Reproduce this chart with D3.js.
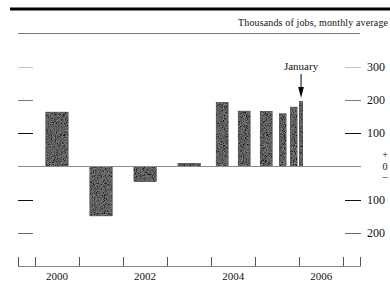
<!DOCTYPE html>
<html>
<head>
    <meta charset="utf-8">
    <title>Payroll jobs</title>
    <script src="https://d3js.org/d3.v7.min.js"></script>
    <style>
        body { margin: 0; background: #fff; }
        text { font-family: "Liberation Serif", "DejaVu Serif", serif; fill: #111; }
    </style>
</head>
<body>
    <script>
        // Periods as decimal years (start, end) and average monthly change
        const periodStart = [2000, 2001, 2002, 2003, 2004, 2004.5, 2005, 2005.5, 2005.75, 2006];
        const periodEnd = [2001, 2002, 2003, 2004, 2004.5, 2005, 2005.5, 2005.75, 2006, 2006 + 1 / 12];
        const jobValues = [163, -148, -45, 9, 192, 166, 165, 158, 178, 195];
        const yearLabels = [2000, 2002, 2004, 2006];
        const yearTicks = [2000, 2001, 2002, 2003, 2004, 2005, 2006, 2007];
        const yTicks = [300, 200, 100, -100, -200];
        const tickGray = ["#c4c4c4", "#7a7a7a", "#111", "#111", "#666"];

        const width = 390, height = 282;

        const svg = d3.select("body")
            .append("svg")
            .attr("width", width)
            .attr("height", height);

        // Noise texture for the bars
        const defs = svg.append("defs");
        const f = defs.append("filter").attr("id", "grain")
            .attr("filterUnits", "userSpaceOnUse")
            .attr("x", 0).attr("y", 0).attr("width", width).attr("height", height);
        f.append("feTurbulence")
            .attr("type", "fractalNoise")
            .attr("baseFrequency", 1.1)
            .attr("numOctaves", 2)
            .attr("seed", 3)
            .attr("result", "noise");
        f.append("feColorMatrix")
            .attr("in", "noise")
            .attr("type", "matrix")
            .attr("values", "1.3 0 0 0 -0.4  1.3 0 0 0 -0.4  1.3 0 0 0 -0.4  0 0 0 0 1")
            .attr("result", "gray");
        f.append("feComposite")
            .attr("in", "gray")
            .attr("in2", "SourceGraphic")
            .attr("operator", "in");

        const x = d3.scaleLinear().domain([1999.615, 2007.38]).range([18, 360]);
        const y = d3.scaleLinear().domain([0, 300]).range([166.5, 66.5]);

        // Top rules and unit note
        svg.append("rect")
            .attr("x", 10).attr("y", 7.5).attr("width", 380).attr("height", 3)
            .attr("fill", "#000");
        svg.append("line")
            .attr("x1", 18).attr("x2", 360).attr("y1", 33.5).attr("y2", 33.5)
            .attr("stroke", "#777").attr("stroke-width", 1);
        svg.append("text")
            .attr("x", 238).attr("y", 26)
            .attr("font-size", "10px")
            .attr("textLength", 150)
            .text("Thousands of jobs, monthly average");

        // Left and right value ticks
        svg.selectAll(".ltick")
            .data(yTicks)
            .enter()
            .append("line")
            .attr("x1", 18).attr("x2", 33)
            .attr("y1", d => Math.round(y(d)) + 0.5)
            .attr("y2", d => Math.round(y(d)) + 0.5)
            .attr("stroke", (d, i) => tickGray[i]);

        svg.selectAll(".rtick")
            .data(yTicks)
            .enter()
            .append("line")
            .attr("x1", 345).attr("x2", 361)
            .attr("y1", d => Math.round(y(d)) + 0.5)
            .attr("y2", d => Math.round(y(d)) + 0.5)
            .attr("stroke", (d, i) => tickGray[i]);

        svg.selectAll(".rlabel")
            .data(yTicks)
            .enter()
            .append("text")
            .attr("x", 367)
            .attr("y", d => y(d) + 4)
            .attr("font-size", "12px")
            .text(d => Math.abs(d));

        svg.append("text").attr("x", 385).attr("y", y(0) - 9)
            .attr("font-size", "10px").attr("text-anchor", "middle").attr("fill", "#777").text("+");
        svg.append("text").attr("x", 385).attr("y", y(0) + 3)
            .attr("font-size", "10px").attr("text-anchor", "middle").text("0");
        svg.append("text").attr("x", 385).attr("y", y(0) + 13)
            .attr("font-size", "10px").attr("text-anchor", "middle").text("\u2013");

        // Bars
        const bars = svg.selectAll(".bar")
            .data(jobValues)
            .enter()
            .append("g")
            .attr("class", "bar");

        const barW = (d, i) => 0.47 * (x(periodEnd[i]) - x(periodStart[i])) + 1.5;
        const barX = (d, i) => (x(periodStart[i]) + x(periodEnd[i])) / 2 - barW(d, i) / 2;

        bars.append("rect")
            .attr("x", barX)
            .attr("width", barW)
            .attr("y", d => y(Math.max(0, d)))
            .attr("height", d => Math.abs(y(d) - y(0)))
            .attr("fill", "#383838")
            .attr("stroke", "#222")
            .attr("stroke-width", 0.6);

        bars.append("rect")
            .attr("x", barX)
            .attr("width", barW)
            .attr("y", d => y(Math.max(0, d)))
            .attr("height", d => Math.abs(y(d) - y(0)))
            .attr("fill", "#000")
            .attr("opacity", 0.5)
            .attr("filter", "url(#grain)");

        // Zero line
        svg.append("line")
            .attr("x1", 18).attr("x2", 361)
            .attr("y1", y(0)).attr("y2", y(0))
            .attr("stroke", "#8a8a8a");

        // January callout
        const jan = jobValues.length - 1;
        const janX = (x(periodStart[jan]) + x(periodEnd[jan])) / 2;
        svg.append("text")
            .attr("x", janX).attr("y", 70)
            .attr("font-size", "11px")
            .attr("text-anchor", "middle")
            .text("January");
        svg.append("line")
            .attr("x1", janX).attr("x2", janX)
            .attr("y1", 74).attr("y2", 90)
            .attr("stroke", "#000");
        svg.append("path")
            .attr("d", `M${janX - 2.8},87 L${janX + 2.8},87 L${janX},98 Z`)
            .attr("fill", "#000");

        // Time axis
        svg.append("line")
            .attr("x1", 18).attr("x2", 360)
            .attr("y1", 266.5).attr("y2", 266.5)
            .attr("stroke", "#888");

        svg.selectAll(".xtick")
            .data([1999.615].concat(yearTicks, [2007.38]))
            .enter()
            .append("line")
            .attr("x1", d => Math.round(x(d)) + 0.5)
            .attr("x2", d => Math.round(x(d)) + 0.5)
            .attr("y1", 257).attr("y2", 266.5)
            .attr("stroke", "#555");

        svg.selectAll(".xlabel")
            .data(yearLabels)
            .enter()
            .append("text")
            .attr("x", d => x(d + 0.5))
            .attr("y", 280)
            .attr("font-size", "11px")
            .attr("text-anchor", "middle")
            .text(d => d);
    </script>
</body>
</html>
